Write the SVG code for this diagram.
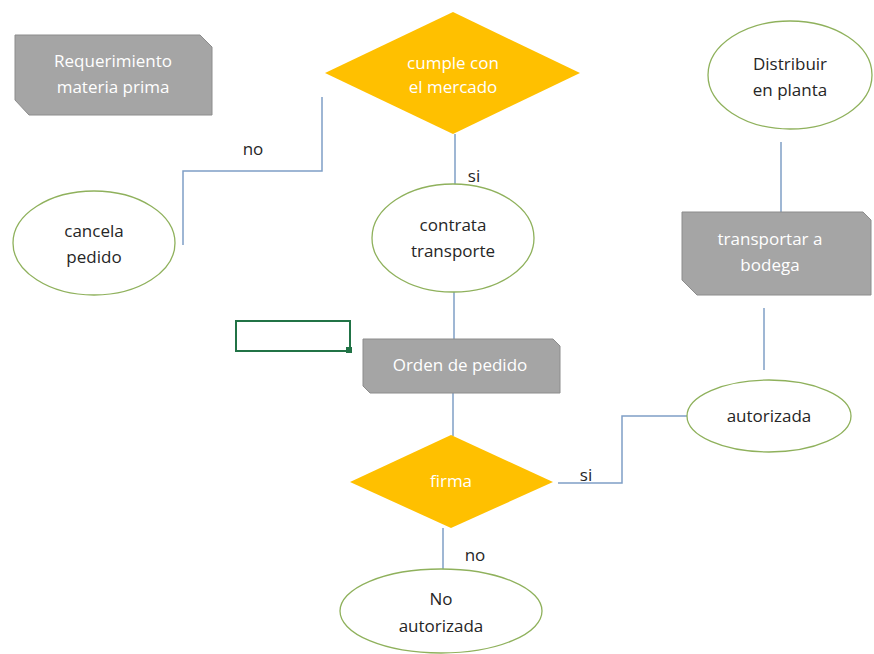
<svg xmlns="http://www.w3.org/2000/svg" width="874" height="654" viewBox="0 0 874 654">
<style>
text{font-family:"Open Sans","Liberation Sans",sans-serif;font-size:17px;text-anchor:middle}
.w{fill:#ffffff}
.k{fill:#262626}
.box{fill:#a5a5a5;stroke:#8c8c8c;stroke-width:1}
.dia{fill:#ffc000}
.ell{fill:#ffffff;stroke:#8fb15c;stroke-width:1.3}
.con{fill:none;stroke:#7f9fc6;stroke-width:1.5}
</style>
<rect width="874" height="654" fill="#ffffff"/>
<g id="connectors">
<polyline class="con" points="183,245 183,171 322,171 322,97"/>
<line class="con" x1="455" y1="134" x2="455" y2="185"/>
<line class="con" x1="454" y1="292" x2="454" y2="340"/>
<line class="con" x1="453" y1="393" x2="453" y2="436"/>
<line class="con" x1="443" y1="528" x2="443" y2="570"/>
<polyline class="con" points="558,483 622,483 622,416 687,416"/>
<line class="con" x1="764" y1="308" x2="764" y2="370"/>
<line class="con" x1="781" y1="142" x2="781" y2="212"/>
<text class="k" x="253" y="155">no</text>
<text class="k" x="474" y="182">si</text>
<text class="k" x="475" y="561">no</text>
<text class="k" x="586" y="481">si</text>
</g>
<g id="requerimiento">
<polygon class="box" points="15,35 200,35 212,47 212,115 29,115 15,100"/>
<text class="w" x="113" y="67">Requerimiento</text>
<text class="w" x="113" y="93">materia prima</text>
</g>
<g id="cumple">
<polygon class="dia" points="325,73 453,12 580,73 453,134"/>
<text class="w" x="453" y="69">cumple con</text>
<text class="w" x="453" y="93">el mercado</text>
</g>
<g id="cancela">
<ellipse class="ell" cx="94" cy="243" rx="81" ry="52"/>
<text class="k" x="94" y="237">cancela</text>
<text class="k" x="94" y="263">pedido</text>
</g>
<g id="contrata">
<ellipse class="ell" cx="453" cy="238" rx="81" ry="54"/>
<text class="k" x="453" y="231">contrata</text>
<text class="k" x="453" y="257">transporte</text>
</g>
<g id="seleccion">
<rect x="236" y="321" width="114" height="30" fill="none" stroke="#217346" stroke-width="2"/>
<rect x="346" y="347" width="6" height="6" fill="#217346"/>
</g>
<g id="orden">
<polygon class="box" points="363,339 553,339 560,346 560,393 370,393 363,386"/>
<text class="w" x="460" y="371">Orden de pedido</text>
</g>
<g id="firma">
<polygon class="dia" points="350,482 451,435 553,482 451,528"/>
<text class="w" x="451" y="487">firma</text>
</g>
<g id="noautorizada">
<ellipse class="ell" cx="441" cy="611" rx="101" ry="42"/>
<text class="k" x="441" y="605">No</text>
<text class="k" x="441" y="632">autorizada</text>
</g>
<g id="autorizada">
<ellipse class="ell" cx="769" cy="416" rx="82" ry="36"/>
<text class="k" x="769" y="422">autorizada</text>
</g>
<g id="transportar">
<polygon class="box" points="682,212 863,212 871,220 871,295 697,295 682,280"/>
<text class="w" x="770" y="245">transportar a</text>
<text class="w" x="770" y="271">bodega</text>
</g>
<g id="distribuir">
<ellipse class="ell" cx="790" cy="75" rx="82" ry="54"/>
<text class="k" x="790" y="70">Distribuir</text>
<text class="k" x="790" y="96">en planta</text>
</g>
</svg>
